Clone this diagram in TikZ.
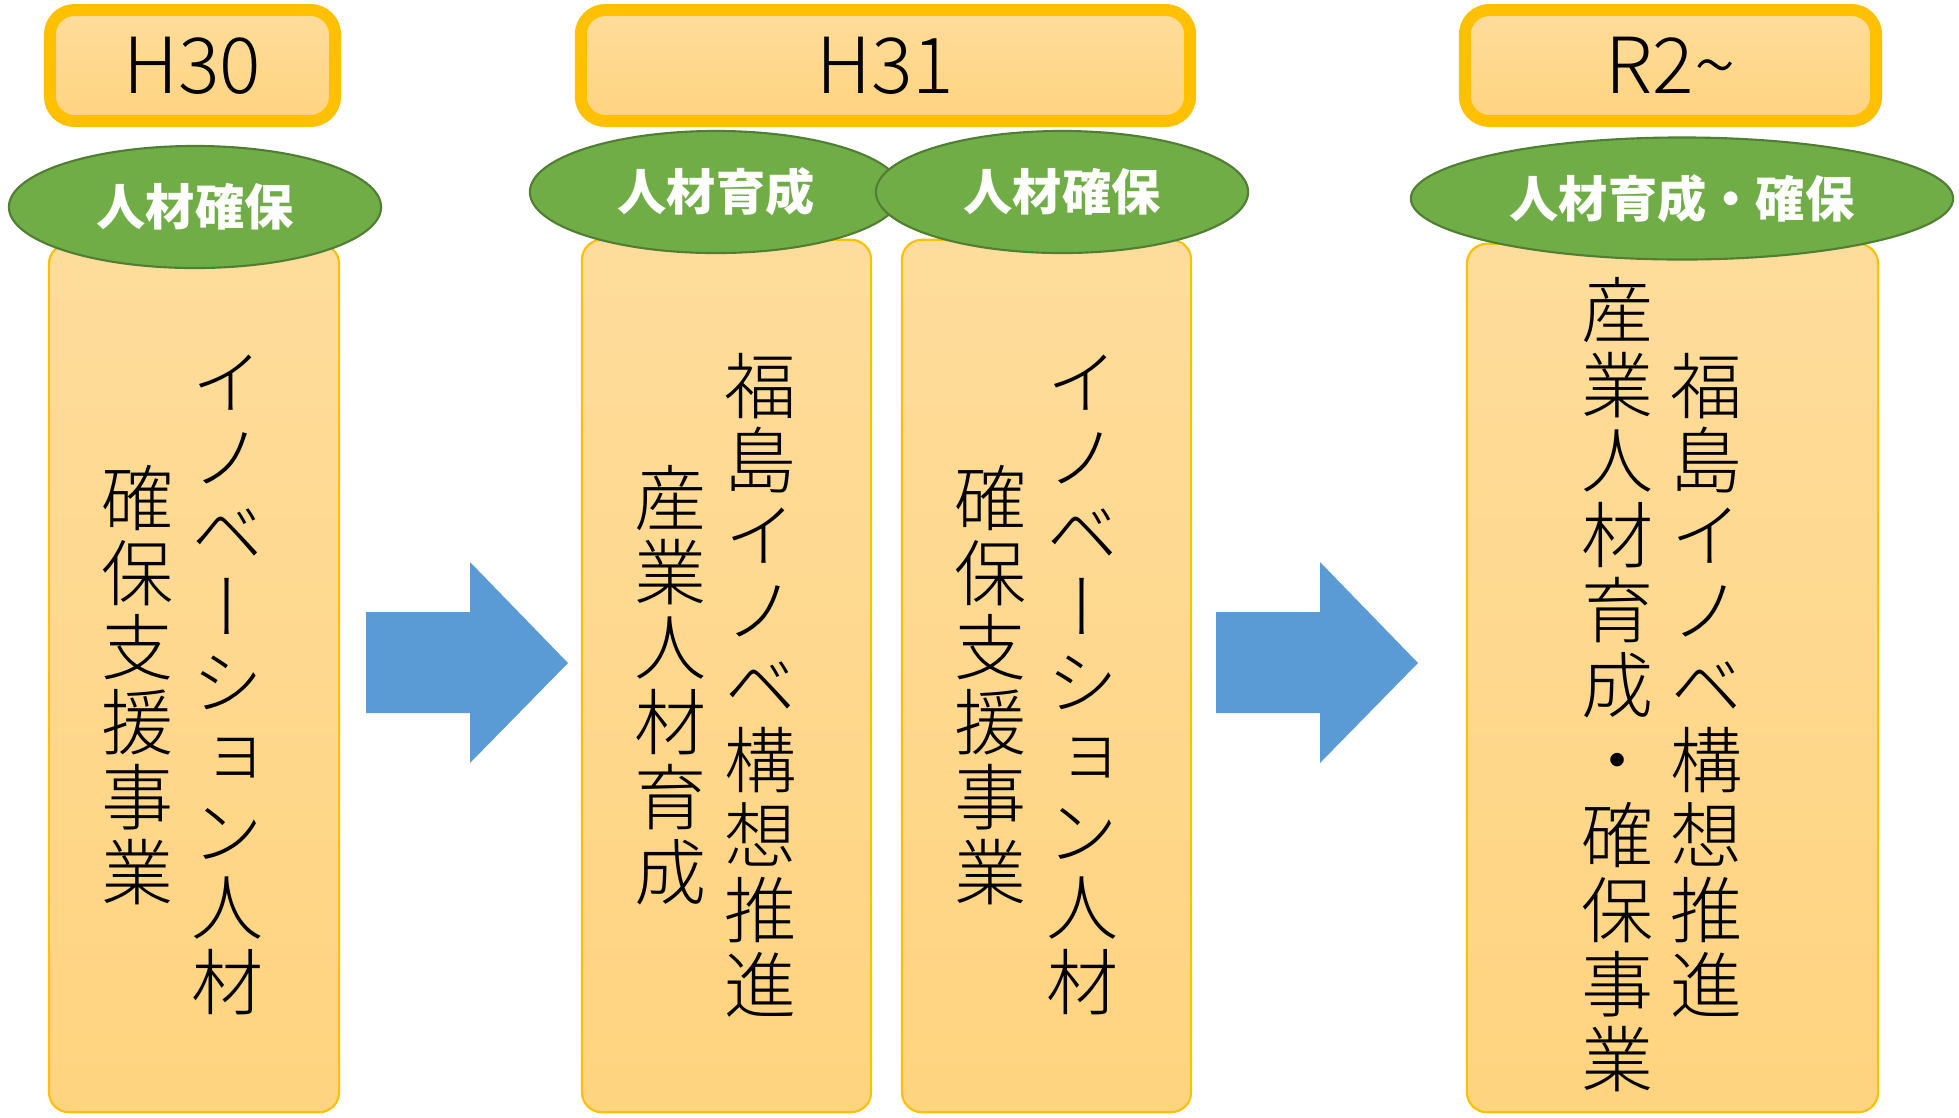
\documentclass[tikz,border=0pt]{standalone}
\usepackage{fontspec}
\setmainfont{Noto Sans CJK JP}
\newfontfamily\thinfont{Noto Sans CJK JP Light}
\newfontfamily\tatefont[RawFeature=+vert]{Noto Sans CJK JP Light}
\usetikzlibrary{shapes.geometric, positioning}
\definecolor{yearorange}{RGB}{255, 192, 0}
\definecolor{boxtop}{RGB}{254, 220, 155}
\definecolor{boxbottom}{RGB}{255, 212, 128}
\definecolor{leafgreen}{RGB}{112, 173, 71}
\definecolor{leafdark}{RGB}{80, 126, 50}
\definecolor{arrowblue}{RGB}{91, 155, 213}

\tikzset{
  yearbox/.style={draw=yearorange, line width=3.4pt, rounded corners=7pt, top color=boxtop, bottom color=boxbottom, minimum height=1.11cm, inner sep=0pt, font=\thinfont\fontsize{22}{26}\selectfont},
  planbox/.style={draw=yearorange, line width=0.6pt, rounded corners=0.2cm, top color=boxtop, bottom color=boxbottom, inner sep=0pt},
  themeoval/.style={ellipse, draw=leafdark, line width=0.6pt, fill=leafgreen, text=white, minimum height=1.22cm, inner sep=0pt, font=\bfseries\fontsize{14}{17}\selectfont},
  tatecol/.style={align=center, inner sep=0pt, font=\tatefont\fontsize{20.5}{21.3}\selectfont}
}

\begin{document}
\begin{tikzpicture}[x=0.01cm, y=-0.01cm]
  \useasboundingbox (0,0) rectangle (1959,1117);

  % Plan boxes
  \node[planbox, minimum width=2.90cm, minimum height=8.68cm] (h30box) at (194, 678) {};
  \node[planbox, minimum width=2.89cm, minimum height=8.72cm] (h31boxa) at (726.5, 676) {};
  \node[planbox, minimum width=2.89cm, minimum height=8.72cm] (h31boxb) at (1046.5, 676) {};
  \node[planbox, minimum width=4.11cm, minimum height=8.68cm] (r2box) at (1672.5, 678) {};

  % Theme ovals
  \node[themeoval, minimum width=3.72cm] (h30oval) at (195, 207) {人材確保};
  \node[themeoval, minimum width=3.72cm] (h31ovala) at (716, 192) {人材育成};
  \node[themeoval, minimum width=3.72cm] (h31ovalb) at (1062, 192) {人材確保};
  \node[themeoval, minimum width=5.42cm] (r2oval) at (1682, 198.5) {人材育成・確保};

  % Year headers
  \node[yearbox, minimum width=2.85cm] (h30year) at (192.5, 65.5) {H30};
  \node[yearbox, minimum width=6.09cm] (h31year) at (885.5, 65.5) {H31};
  \node[yearbox, minimum width=4.11cm] (r2year) at (1670.5, 65.5) {R2\textasciitilde};

  % Vertical texts (right column read first)
  \node[tatecol] (h30right) at (228, 685) {イ\\ノ\\ベ\\ー\\シ\\ョ\\ン\\人\\材};
  \node[tatecol] (h30left) at (138, 685) {確\\保\\支\\援\\事\\業};

  \node[tatecol] (h31aright) at (761, 685) {福\\島\\イ\\ノ\\ベ\\構\\想\\推\\進};
  \node[tatecol] (h31aleft) at (671, 685) {産\\業\\人\\材\\育\\成};

  \node[tatecol] (h31bright) at (1083, 685) {イ\\ノ\\ベ\\ー\\シ\\ョ\\ン\\人\\材};
  \node[tatecol] (h31bleft) at (991, 685) {確\\保\\支\\援\\事\\業};

  \node[tatecol] (r2right) at (1707, 685) {福\\島\\イ\\ノ\\ベ\\構\\想\\推\\進};
  \node[tatecol] (r2left) at (1618, 685) {産\\業\\人\\材\\育\\成\\・\\確\\保\\事\\業};

  % Block arrows
  \foreach \ax in {366, 1216}
    \fill[arrowblue] (\ax, 612) -- ++(104, 0) -- ++(0, -50) -- ++(98, 101) -- ++(-98, 100) -- ++(0, -50) -- ++(-104, 0) -- cycle;
\end{tikzpicture}
\end{document}
